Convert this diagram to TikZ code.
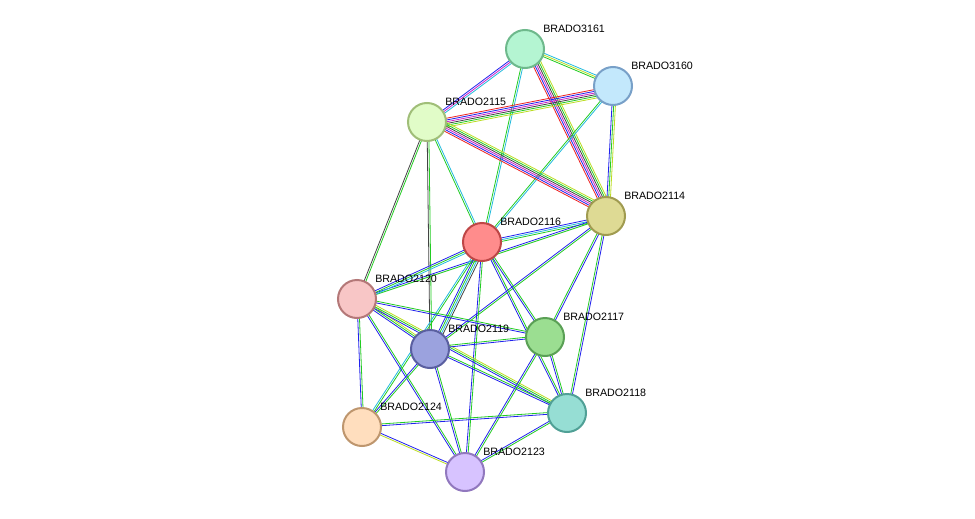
\documentclass[tikz,border=0pt]{standalone}
\usepackage{fontspec}
\setmainfont{Liberation Sans}
\usetikzlibrary{calc}
\definecolor{eg}{HTML}{22CC22}
\definecolor{eb}{HTML}{2222EE}
\definecolor{ec}{HTML}{22BBDD}
\definecolor{er}{HTML}{EE2222}
\definecolor{em}{HTML}{CC22CC}
\definecolor{ey}{HTML}{BBDD22}
\definecolor{ek}{HTML}{444444}
\newcommand\myedge[3]{%
  \foreach \c [count=\i] in {#3} {%
    \pgfmathsetmacro\off{(\i-1)*1.3}%
    \draw[\c, line width=0.6pt] ($(#1)!\off pt!90:(#2)$) -- ($(#2)!\off pt!-90:(#1)$);}}
\tikzset{prot/.style={circle, minimum size=28.5pt, inner sep=0pt, line width=1.5pt},
  lab/.style={font=\fontsize{8}{9}\selectfont, anchor=south west, inner sep=0pt}}
\begin{document}
\begin{tikzpicture}[x=0.75pt,y=-0.75pt]
\useasboundingbox (0,0) rectangle (975,518);
\fill[white] (0,0) rectangle (975,518);
\coordinate (a3161) at (525,49);
\coordinate (a3160) at (613,86);
\coordinate (a2115) at (427,122);
\coordinate (a2114) at (606,216);
\coordinate (a2116) at (482,242);
\coordinate (a2120) at (357,299);
\coordinate (a2119) at (430,349);
\coordinate (a2117) at (545,337);
\coordinate (a2118) at (567,413);
\coordinate (a2124) at (362,427);
\coordinate (a2123) at (465,472);
\myedge{a3161}{a3160}{eg,ey,ec}
\myedge{a3161}{a2115}{eb,em,ec}
\myedge{a3161}{a2114}{er,eb,em,ek,eg,ey}
\myedge{a3161}{a2116}{eg,ec}
\myedge{a3160}{a2115}{er,eb,em,ek,eg,ey}
\myedge{a3160}{a2114}{eb,eg,ey}
\myedge{a3160}{a2116}{eg,ec}
\myedge{a2115}{a2114}{er,eb,em,ek,eg,ey}
\myedge{a2115}{a2116}{eg,ec}
\myedge{a2115}{a2120}{ek,eg}
\myedge{a2115}{a2119}{ek,eg}
\myedge{a2114}{a2116}{eb,ec,eg}
\myedge{a2114}{a2117}{eg,eb}
\myedge{a2114}{a2118}{eg,eb}
\myedge{a2114}{a2119}{eb,eg}
\myedge{a2114}{a2120}{eb,eg}
\myedge{a2116}{a2120}{eb,eg,ec}
\myedge{a2116}{a2119}{eb,eg,ec,ek}
\myedge{a2116}{a2117}{eb,eg}
\myedge{a2116}{a2118}{eb,eg}
\myedge{a2116}{a2124}{ec,eg}
\myedge{a2116}{a2123}{eb,eg}
\myedge{a2120}{a2119}{eb,eg,ey}
\myedge{a2120}{a2117}{eb,eg}
\myedge{a2120}{a2118}{eb,eg,ey}
\myedge{a2120}{a2124}{eb,eg}
\myedge{a2120}{a2123}{eb,eg}
\myedge{a2119}{a2117}{eb,eg}
\myedge{a2119}{a2118}{eb,eg}
\myedge{a2119}{a2124}{eb,eg}
\myedge{a2119}{a2123}{eb,eg}
\myedge{a2117}{a2118}{eb,eg}
\myedge{a2117}{a2123}{eb,eg}
\myedge{a2124}{a2118}{eb,eg}
\myedge{a2123}{a2118}{eg,eb}
\myedge{a2124}{a2123}{ey,eb}
\node[prot, fill={rgb,255:red,180;green,245;blue,210}, draw={rgb,255:red,110;green,185;blue,140}] (n3161) at (a3161) {};
\node[prot, fill={rgb,255:red,195;green,232;blue,252}, draw={rgb,255:red,120;green,160;blue,200}] (n3160) at (a3160) {};
\node[prot, fill={rgb,255:red,225;green,252;blue,200}, draw={rgb,255:red,160;green,190;blue,120}] (n2115) at (a2115) {};
\node[prot, fill={rgb,255:red,222;green,218;blue,148}, draw={rgb,255:red,160;green,155;blue,80}] (n2114) at (a2114) {};
\node[prot, fill={rgb,255:red,255;green,140;blue,140}, draw={rgb,255:red,190;green,70;blue,70}] (n2116) at (a2116) {};
\node[prot, fill={rgb,255:red,248;green,198;blue,198}, draw={rgb,255:red,180;green,120;blue,120}] (n2120) at (a2120) {};
\node[prot, fill={rgb,255:red,155;green,162;blue,222}, draw={rgb,255:red,90;green,95;blue,160}] (n2119) at (a2119) {};
\node[prot, fill={rgb,255:red,155;green,222;blue,145}, draw={rgb,255:red,90;green,160;blue,85}] (n2117) at (a2117) {};
\node[prot, fill={rgb,255:red,150;green,222;blue,212}, draw={rgb,255:red,80;green,160;blue,150}] (n2118) at (a2118) {};
\node[prot, fill={rgb,255:red,255;green,222;blue,190}, draw={rgb,255:red,190;green,150;blue,110}] (n2124) at (a2124) {};
\node[prot, fill={rgb,255:red,215;green,195;blue,255}, draw={rgb,255:red,145;green,120;blue,190}] (n2123) at (a2123) {};
\node[lab] (l3161) at ($(a3161)+(18,-16)$) {BRADO3161};
\node[lab] (l3160) at ($(a3160)+(18,-16)$) {BRADO3160};
\node[lab] (l2115) at ($(a2115)+(18,-16)$) {BRADO2115};
\node[lab] (l2114) at ($(a2114)+(18,-16)$) {BRADO2114};
\node[lab] (l2116) at ($(a2116)+(18,-16)$) {BRADO2116};
\node[lab] (l2120) at ($(a2120)+(18,-16)$) {BRADO2120};
\node[lab] (l2119) at ($(a2119)+(18,-16)$) {BRADO2119};
\node[lab] (l2117) at ($(a2117)+(18,-16)$) {BRADO2117};
\node[lab] (l2118) at ($(a2118)+(18,-16)$) {BRADO2118};
\node[lab] (l2124) at ($(a2124)+(18,-16)$) {BRADO2124};
\node[lab] (l2123) at ($(a2123)+(18,-16)$) {BRADO2123};
\end{tikzpicture}
\end{document}
